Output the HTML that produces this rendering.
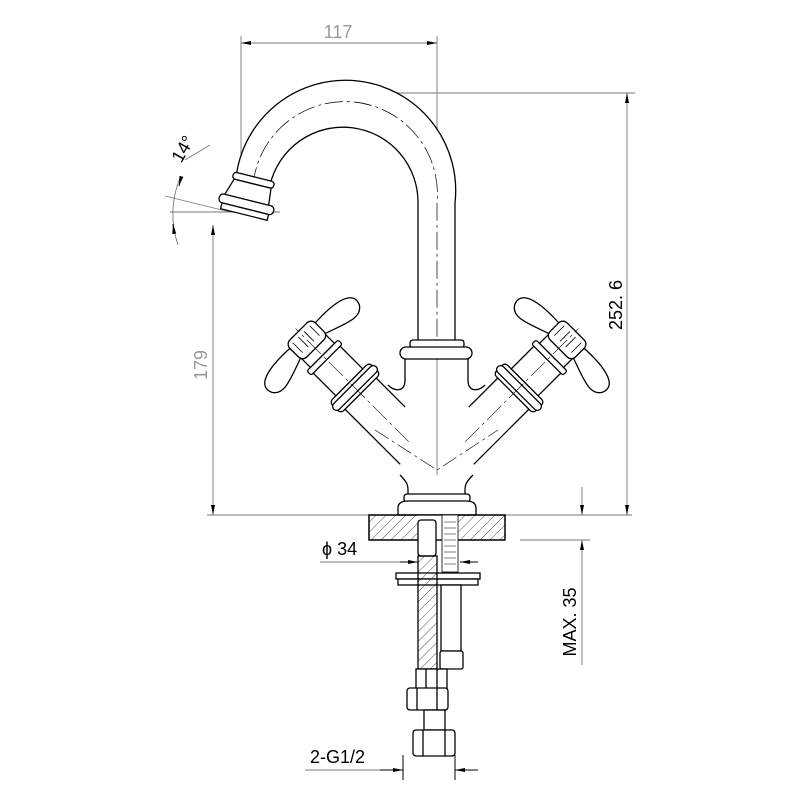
<!DOCTYPE html>
<html><head><style>html,body{margin:0;padding:0;background:#fff}svg{display:block}</style></head><body>
<svg width="802" height="802" viewBox="0 0 802 802" xmlns="http://www.w3.org/2000/svg" font-family="Liberation Sans, sans-serif">
<defs>
<pattern id="h" width="7" height="7" patternUnits="userSpaceOnUse" patternTransform="rotate(45)"><line x1="0" y1="0" x2="0" y2="7" stroke="#222" stroke-width="0.8"/></pattern>
<marker id="a" viewBox="0 0 10 10" refX="10" refY="5" markerWidth="10" markerHeight="10" orient="auto-start-reverse" markerUnits="userSpaceOnUse"><path d="M0,3 L10,5 L0,7z" fill="#000"/></marker>
<g id="arm" fill="#fff" stroke="#000" stroke-width="1.3">
 <path d="M67,22 L112,22 M30,-22 L112,-22"/>
 <rect x="108" y="-28" width="16" height="56" rx="4"/>
 <rect x="112" y="-30" width="8" height="60" rx="4"/>
 <rect x="124" y="-19" width="34" height="38"/>
 <rect x="156" y="-22" width="6" height="44" rx="2"/>
 <rect x="162" y="-17" width="16" height="34"/>
 <path d="M176,-16 C168,-40 160,-55 172,-62 C186,-68 192,-50 190,-16 Z M176,16 C168,40 160,55 172,62 C186,68 192,50 190,16 Z"/>
 <rect x="172" y="-18" width="24" height="36" rx="6"/>
 <path d="M178,-12 L192,-12 M178,-4 L192,-4 M178,4 L192,4 M178,12 L192,12" stroke-width="0.8"/>
 <path d="M40,0 L200,0" stroke-width="0.6" stroke-dasharray="20 4 3 4"/>
</g>
</defs>
<g stroke="#777" stroke-width="0.9" fill="none">
 <line x1="241" y1="36" x2="241" y2="210"/>
 <line x1="437" y1="36" x2="437" y2="530"/>
 <line x1="241" y1="43" x2="437" y2="43" marker-start="url(#a)" marker-end="url(#a)"/>
 <line x1="355" y1="93" x2="635" y2="93"/>
 <line x1="207" y1="515" x2="632" y2="515"/>
 <line x1="520" y1="540" x2="590" y2="540"/>
 <line x1="213" y1="225" x2="213" y2="515" marker-start="url(#a)" marker-end="url(#a)"/>
 <line x1="627" y1="93" x2="627" y2="515" marker-start="url(#a)" marker-end="url(#a)"/>
 <line x1="582" y1="487" x2="582" y2="515" marker-end="url(#a)"/>
 <line x1="582" y1="568" x2="582" y2="540" marker-end="url(#a)"/>
 <line x1="582" y1="568" x2="582" y2="665"/>
 <line x1="170" y1="212" x2="280" y2="212"/>
 <line x1="165" y1="196" x2="230" y2="212"/>
 <line x1="185" y1="160" x2="210" y2="145"/>
 <path d="M180,178 A95,95 0 0 0 178,245"/>
 <line x1="320" y1="562" x2="418" y2="562"/>
 <line x1="475" y1="562" x2="460" y2="562"/>
 <line x1="305" y1="770" x2="403" y2="770"/>
 <line x1="455" y1="770" x2="478" y2="770"/>
</g>
<g stroke="#000" stroke-width="1" fill="none">
 <line x1="400" y1="562" x2="418" y2="562" marker-end="url(#a)"/>
 <line x1="478" y1="562" x2="460" y2="562" marker-end="url(#a)"/>
 <line x1="380" y1="770" x2="403" y2="770" marker-end="url(#a)"/>
 <line x1="478" y1="770" x2="455" y2="770" marker-end="url(#a)"/>
 <line x1="403" y1="755" x2="403" y2="780"/><line x1="455" y1="755" x2="455" y2="780"/>
 <line x1="181" y1="178" x2="179" y2="186" marker-end="url(#a)"/>
 <line x1="174" y1="232" x2="173" y2="224" marker-end="url(#a)"/>
</g>
<g fill="#999" font-size="18">
 <text x="338" y="38" text-anchor="middle">117</text>
 <text transform="translate(207,365) rotate(-90)" text-anchor="middle">179</text>
</g>
<g fill="#000" font-size="18">
 <text transform="translate(622,305) rotate(-90)" text-anchor="middle">252. 6</text>
 <text transform="translate(576,622) rotate(-90)" text-anchor="middle">MAX. 35</text>
 <text transform="translate(188,152) rotate(-60)" text-anchor="middle">14°</text>
 <text x="322" y="555">ϕ 34</text>
 <text x="310" y="763">2-G1/2</text>
</g>
<g stroke="#000" stroke-width="1.3" fill="#fff">
 <path d="M236,178 A110,110 0 0 1 455,203 L455,343 L418,343 L418,203 A75,75 0 0 0 270,185 Z"/>
 <path d="M253,185 A92,92 0 0 1 437,203 L437,343" fill="none" stroke-width="0.7" stroke-dasharray="18 4 3 4"/>
 <g transform="translate(248,198) rotate(14)">
  <rect x="-20" y="-22" width="42" height="7" rx="3"/>
  <path d="M-18,-15 L20,-15 L22,4 L-24,4 Z"/>
  <rect x="-28" y="2" width="56" height="9" rx="4"/>
  <rect x="-24" y="11" width="48" height="6"/>
 </g>
 <rect x="410" y="340" width="54" height="8" rx="3"/>
 <rect x="400" y="347" width="72" height="12" rx="6"/>
 <path d="M405,359 L405,380 C405,392 395,392 388,385 M468,359 L468,380 C468,392 478,392 485,385" fill="none"/>
 <use href="#arm" transform="translate(437,470) rotate(-135)"/>
 <use href="#arm" transform="translate(437,470) scale(-1,1) rotate(-135)"/>
 <path d="M400,475 C407,482 408,485 408,490 L408,497 L465,497 L465,490 C465,485 466,482 473,475" fill="#fff"/>
 <path d="M375,430 L437,470 L498,430" fill="none" stroke-width="0.6" stroke-dasharray="16 4 3 4"/>
 <rect x="404" y="494" width="66" height="8" rx="3"/>
 <path d="M398,515 L398,508 C398,503 402,501 408,501 L466,501 C472,501 476,503 476,508 L476,515 Z"/>
 <rect x="369" y="515" width="136" height="25" fill="url(#h)"/>
 <rect x="418" y="515" width="40" height="25" fill="#fff" stroke="none"/>
 <rect x="369" y="515" width="136" height="25" fill="none"/>
 <rect x="418" y="520" width="18" height="36" rx="3"/>
 <rect x="442" y="515" width="16" height="57" fill="#fff" stroke-width="0.8"/>
 <path d="M444,522 h12 M444,528 h12 M444,534 h12 M444,540 h12 M444,546 h12 M444,552 h12 M444,558 h12 M444,564 h12" stroke-width="0.5"/>
 <rect x="396" y="573" width="84" height="6"/>
 <rect x="398" y="579" width="80" height="6"/>
 <rect x="418" y="556" width="19" height="113" fill="url(#h)"/>
 <rect x="441" y="585" width="20" height="66"/>
 <rect x="440" y="651" width="23" height="18" rx="2"/>
 <rect x="416" y="669" width="31" height="20"/>
 <path d="M426,669 v20 M437,669 v20" fill="none"/>
 <rect x="407" y="688" width="41" height="22" rx="3"/>
 <path d="M417,688 v22 M437,688 v22" fill="none"/>
 <rect x="424" y="710" width="21" height="20"/>
 <rect x="413" y="730" width="42" height="26" rx="3"/>
 <path d="M423,730 v26 M445,730 v26" fill="none"/>
</g>
</svg>
</body></html>
